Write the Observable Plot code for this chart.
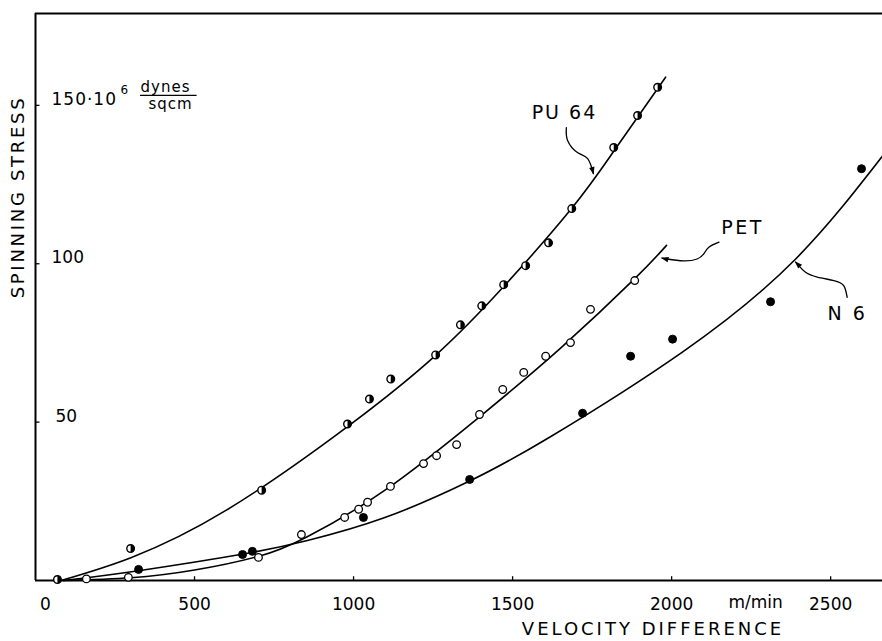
<!DOCTYPE html>
<html>
<head>
<meta charset="utf-8">
<script src="https://cdn.jsdelivr.net/npm/d3@7"></script>
<script src="https://cdn.jsdelivr.net/npm/@observablehq/plot@0.6"></script>
<style>
  html, body { margin: 0; padding: 0; background: white; overflow: hidden; }
  #chart svg { display: block; }
</style>
</head>
<body>
<div id="chart"></div>
<script>
// ---- Measured data (velocity difference in m/min, spinning stress in 10^6 dynes/sqcm)
const pu64Points = [
  [69, 0.3], [299, 10.1], [711, 28.5], [981, 49.4], [1050, 57.3], [1117, 63.6],
  [1258, 71.2], [1336, 80.7], [1403, 86.7], [1472, 93.4], [1541, 99.4], [1613, 106.6],
  [1686, 117.4], [1818, 136.7], [1893, 146.8], [1956, 155.7]
];
const petPoints = [
  [160, 0.5], [292, 1.0], [701, 7.3], [836, 14.5], [972, 19.9], [1016, 22.5], [1044, 24.7],
  [1116, 29.7], [1220, 36.9], [1261, 39.4], [1324, 42.9], [1396, 52.4], [1469, 60.3],
  [1535, 65.7], [1604, 70.8], [1682, 75.1], [1745, 85.6], [1884, 94.7]
];
const n6Points = [
  [324, 3.5], [651, 8.2], [682, 9.2], [1031, 19.9], [1365, 31.9], [1720, 52.8],
  [1871, 70.8], [2003, 76.2], [2311, 88.0], [2597, 130.0]
];

// fitted curves
const pu64Curve = [
  [80, 0], [300, 7.2], [600, 22.2], [981, 48.6], [1258, 71.1], [1472, 92.8],
  [1686, 117.5], [1818, 135.5], [1981, 158.9]
];
const petCurve = [
  [88, 0], [300, 0.85], [500, 3.3], [700, 7.6], [850, 13.6], [1100, 28.6],
  [1400, 52.0], [1650, 73.3], [1884, 95.3], [1984, 105.8]
];
const n6Curve = [
  [88, 0], [324, 3.1], [667, 8.6], [855, 12.6], [1094, 19.7], [1365, 31.4],
  [1619, 45.4], [2035, 72.2], [2390, 101.5], [2663, 134]
];

// axes
const xTicks = [0, 500, 1000, 1500, 2000, 2500];
const xTickLabels = ["0", "500", "1000", "1500", "2000", "2500"];
const yTicks = [50, 100, 150];
const yTickLabels = ["50", "100", "150·10"];
const xMax = 2663, yMax = 179;

// annotations
const seriesNames = ["PU 64", "PET", "N 6"];
const labelX = [1663, 2223, 2553];
const labelY = [147.7, 111.4, 84.3];
const pu64Arrow = [[1669, 143.0], [1673, 138.9], [1704, 135.1], [1736, 133.2], [1754, 128.5]];
const petArrow = [[2149, 106.8], [2117, 105.2], [2101, 103.1], [2080, 101.5], [2038, 100.9], [1986, 101.5], [1970, 101.8]];
const n6Arrow = [[2552, 89.4], [2541, 93.1], [2510, 94.7], [2458, 95.8], [2421, 97.3], [2400, 99.4], [2390, 100.5]];

const halfRight = {
  draw(context, size) {
    const r = Math.sqrt(size / Math.PI);
    context.moveTo(0, -r);
    context.arc(0, 0, r, -Math.PI / 2, Math.PI / 2);
    context.closePath();
  }
};

function filledArrow(color) {
  const m = d3.create("svg:marker")
    .attr("viewBox", "-8 -5 10 10")
    .attr("markerWidth", 7)
    .attr("markerHeight", 7)
    .attr("orient", "auto")
    .attr("fill", color)
    .attr("stroke", "none");
  m.append("path").attr("d", "M-7,-3L1.5,0L-7,3Z");
  return m.node();
}

const font = "DejaVu Sans";
const arrowStyle = {x: d => d[0], y: d => d[1], curve: "natural", stroke: "black", strokeWidth: 1.3, markerEnd: filledArrow};

const chart = Plot.plot({
  width: 882,
  height: 641,
  marginLeft: 35,
  marginRight: 0,
  marginTop: 13,
  marginBottom: 61,
  x: {domain: [0, xMax], axis: null},
  y: {domain: [0, yMax], axis: null},
  style: {fontFamily: font, background: "white", color: "black", overflow: "visible"},
  marks: [
    // frame
    Plot.ruleX([0], {y1: 0, y2: yMax, stroke: "black", strokeWidth: 2}),
    Plot.ruleY([0], {stroke: "black", strokeWidth: 2}),
    Plot.ruleY([yMax], {stroke: "black", strokeWidth: 1.8}),
    // ticks
    Plot.ruleX(xTicks.slice(1), {y1: 0, y2: 1.2, stroke: "black", strokeWidth: 1.3}),
    Plot.ruleY(yTicks, {x1: 0, x2: 14, stroke: "black", strokeWidth: 1.3}),
    // x tick labels
    Plot.text(xTicks.slice(1), {x: d => d, y: 0, text: (d, i) => xTickLabels[i + 1], dy: 24, fontSize: 17}),
    Plot.text([xTicks[0]], {x: d => d, y: 0, text: () => xTickLabels[0], dy: 24, dx: 10, fontSize: 17}),
    Plot.text(["m/min"], {x: 2264, y: 0, text: d => d, dy: 22, fontSize: 17}),
    // y tick labels
    Plot.text(yTicks.slice(1), {x: 0, y: d => d, text: (d, i) => yTickLabels[i + 1], textAnchor: "start", dx: 16, dy: -6, fontSize: 17}),
    Plot.text([yTicks[0]], {x: 0, y: d => d, text: () => yTickLabels[0], textAnchor: "start", dx: 20, dy: -6, fontSize: 17}),
    Plot.text(["6"], {x: 0, y: 150, text: d => d, textAnchor: "start", dx: 85, dy: -15, fontSize: 12}),
    Plot.text(["dynes"], {x: 0, y: 150, text: d => d, textAnchor: "start", dx: 105, dy: -18, fontSize: 15}),
    Plot.ruleY([150], {x1: 330, x2: 508, dy: -10, stroke: "black", strokeWidth: 1.3}),
    Plot.text(["sqcm"], {x: 0, y: 150, text: d => d, textAnchor: "start", dx: 113, dy: -1, fontSize: 15}),
    // axis titles
    Plot.text(["SPINNING STRESS"], {frameAnchor: "left", textAnchor: "middle", text: d => d, rotate: -90, dx: -17, dy: -100, fontSize: 18}),
    Plot.text(["VELOCITY DIFFERENCE"], {frameAnchor: "bottom", text: d => d, dx: 194, dy: 54, fontSize: 18}),
    // curves
    Plot.line(pu64Curve, {x: d => d[0], y: d => d[1], curve: "natural", stroke: "black", strokeWidth: 1.6}),
    Plot.line(petCurve, {x: d => d[0], y: d => d[1], curve: "natural", stroke: "black", strokeWidth: 1.6}),
    Plot.line(n6Curve, {x: d => d[0], y: d => d[1], curve: "natural", stroke: "black", strokeWidth: 1.6}),
    // arrows + labels
    Plot.line(pu64Arrow, arrowStyle),
    Plot.line(petArrow, arrowStyle),
    Plot.line(n6Arrow, arrowStyle),
    Plot.text(seriesNames, {x: (d, i) => labelX[i], y: (d, i) => labelY[i], text: d => d, fontSize: 19}),
    // points
    Plot.dot(petPoints, {x: d => d[0], y: d => d[1], r: 3.8, fill: "white", stroke: "black", strokeWidth: 1.3}),
    Plot.dot(n6Points, {x: d => d[0], y: d => d[1], r: 4, fill: "black", stroke: "black", strokeWidth: 1}),
    Plot.dot(pu64Points, {x: d => d[0], y: d => d[1], r: 3.8, fill: "white", stroke: "black", strokeWidth: 1.4}),
    Plot.dot(pu64Points, {x: d => d[0], y: d => d[1], r: 3.8, symbol: halfRight, fill: "black", stroke: "none"})
  ]
});

// letter spacing for the hand-lettered labels
const spacing = {
  "SPINNING STRESS": 2.7, "VELOCITY DIFFERENCE": 3,
  "PU 64": 2, "PET": 2.5, "N 6": 2.5, "150·10": 1, "dynes": 1, "sqcm": 1
};
d3.select(chart).selectAll("text").each(function () {
  const s = spacing[this.textContent];
  if (s != null) this.style.letterSpacing = s + "px";
});
document.getElementById("chart").appendChild(chart);
</script>
</body>
</html>
